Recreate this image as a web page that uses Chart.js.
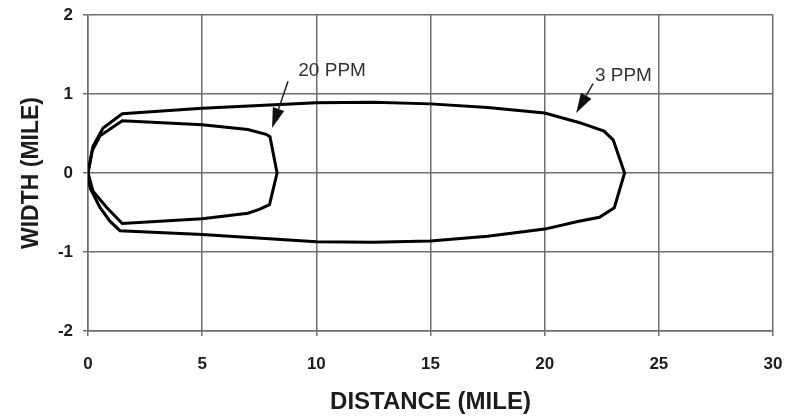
<!DOCTYPE html>
<html>
<head>
<meta charset="utf-8">
<title>Plume width vs distance</title>
<script src="https://cdn.jsdelivr.net/npm/chart.js@4.4.1/dist/chart.umd.min.js"></script>
<style>
  body { margin: 0; background: #fff; }
  #wrap { width: 791px; height: 418px; position: relative; }
</style>
</head>
<body>
<div id="wrap"><canvas id="plume-chart"></canvas></div>
<script>
// 3 PPM contour, traced clockwise from the source
const ppm3Dist  = [0, 0.22, 0.66, 1.5, 5, 10, 12.5, 15, 17.5, 20, 21.5, 22.6, 23.0, 23.5,
                   23.05, 22.4, 21.5, 20, 17.5, 15, 12.5, 10, 5, 1.4, 0.96, 0.53, 0.09, 0];
const ppm3Width = [0, 0.34, 0.57, 0.75, 0.82, 0.89, 0.895, 0.875, 0.83, 0.76, 0.64, 0.53, 0.42, 0,
                   -0.44, -0.56, -0.61, -0.71, -0.80, -0.86, -0.875, -0.87, -0.78, -0.73, -0.61, -0.44, -0.19, 0];

// 20 PPM contour
const ppm20Dist  = [0, 0.18, 0.53, 1.5, 5, 7, 7.8, 7.97, 8.28, 7.95, 7.5, 7, 5, 1.5, 0.83, 0.22, 0];
const ppm20Width = [0, 0.28, 0.47, 0.66, 0.61, 0.55, 0.49, 0.46, 0, -0.40, -0.46, -0.51, -0.58, -0.64, -0.44, -0.23, 0];

const xTicks = [0, 5, 10, 15, 20, 25, 30];
const yTicks = [-2, -1, 0, 1, 2];

// callouts: text position and arrow (from -> to), all in data units
const calloutText  = ['20 PPM', '3 PPM'];
const calloutTextX = [10.69, 23.45];
const calloutTextY = [1.29, 1.23];
const arrowFromX   = [8.76, 22.12];
const arrowFromY   = [1.16, 1.13];
const arrowToX     = [8.06, 21.38];
const arrowToY     = [0.57, 0.76];

const toPoints = (xs, ys) => xs.map((x, i) => ({ x: x, y: ys[i] }));

const GRID = '#6e6e6e';
const INK = '#1c1c1c';
const FONT = '"Liberation Sans", Arial, sans-serif';

const calloutPlugin = {
    id: 'callouts',
    afterDatasetsDraw(chart) {
        const { ctx, scales: { x, y } } = chart;
        ctx.save();
        calloutText.forEach((text, i) => {
            const x1 = x.getPixelForValue(arrowFromX[i]);
            const y1 = y.getPixelForValue(arrowFromY[i]);
            const x2 = x.getPixelForValue(arrowToX[i]);
            const y2 = y.getPixelForValue(arrowToY[i]);
            const ang = Math.atan2(y2 - y1, x2 - x1);
            const headLen = 20, headHalf = 6;
            const bx = x2 - headLen * Math.cos(ang);
            const by = y2 - headLen * Math.sin(ang);

            ctx.strokeStyle = '#222';
            ctx.lineWidth = 1.5;
            ctx.beginPath();
            ctx.moveTo(x1, y1);
            ctx.lineTo(bx, by);
            ctx.stroke();

            ctx.fillStyle = '#111';
            ctx.beginPath();
            ctx.moveTo(x2, y2);
            ctx.lineTo(bx + headHalf * Math.sin(ang), by - headHalf * Math.cos(ang));
            ctx.lineTo(bx - headHalf * Math.sin(ang), by + headHalf * Math.cos(ang));
            ctx.closePath();
            ctx.fill();

            ctx.fillStyle = '#333';
            ctx.font = '19px ' + FONT;
            ctx.textAlign = 'center';
            ctx.textBaseline = 'middle';
            ctx.fillText(text, x.getPixelForValue(calloutTextX[i]), y.getPixelForValue(calloutTextY[i]));
        });
        ctx.restore();
    }
};

function renderPlumeChart() {
    const ctx = document.getElementById('plume-chart').getContext('2d');
    new Chart(ctx, {
        type: 'scatter',
        data: {
            datasets: [{
                label: '3 PPM',
                data: toPoints(ppm3Dist, ppm3Width),
                showLine: true,
                borderColor: '#000',
                borderWidth: 3,
                pointRadius: 0,
                tension: 0,
                fill: false
            }, {
                label: '20 PPM',
                data: toPoints(ppm20Dist, ppm20Width),
                showLine: true,
                borderColor: '#000',
                borderWidth: 3,
                pointRadius: 0,
                tension: 0,
                fill: false
            }]
        },
        options: {
            responsive: true,
            maintainAspectRatio: false,
            animation: false,
            layout: { padding: { top: 15, right: 18, left: 0, bottom: 0 } },
            plugins: {
                legend: { display: false },
                tooltip: { enabled: false }
            },
            scales: {
                x: {
                    type: 'linear',
                    min: 0,
                    max: 30,
                    afterBuildTicks: (scale) => { scale.ticks = xTicks.map(v => ({ value: v })); },
                    afterFit: (scale) => {
                        scale.height = 87;
                        scale.paddingLeft = 0;
                        scale.paddingRight = 0;
                    },
                    grid: { color: GRID, lineWidth: 1.5, tickLength: 5, tickColor: GRID },
                    border: { color: GRID, width: 1.5 },
                    ticks: {
                        color: INK,
                        padding: 18,
                        maxRotation: 0,
                        font: { family: FONT, size: 17, weight: 'bold' }
                    },
                    title: {
                        display: true,
                        text: 'DISTANCE (MILE)',
                        color: INK,
                        padding: { top: 0, bottom: 1 },
                        font: { family: FONT, size: 24, weight: 'bold' }
                    }
                },
                y: {
                    type: 'linear',
                    min: -2,
                    max: 2,
                    afterBuildTicks: (scale) => { scale.ticks = yTicks.map(v => ({ value: v })); },
                    afterFit: (scale) => {
                        scale.width = 88;
                        scale.paddingTop = 0;
                        scale.paddingBottom = 0;
                    },
                    grid: { color: GRID, lineWidth: 1.5, tickLength: 5, tickColor: GRID },
                    border: { color: GRID, width: 1.5 },
                    ticks: {
                        color: INK,
                        padding: 10,
                        font: { family: FONT, size: 17, weight: 'bold' }
                    },
                    title: {
                        display: true,
                        text: 'WIDTH (MILE)',
                        color: INK,
                        padding: { top: 18, bottom: 0 },
                        font: { family: FONT, size: 23, weight: 'bold' }
                    }
                }
            }
        },
        plugins: [calloutPlugin]
    });
}

document.addEventListener('DOMContentLoaded', renderPlumeChart);
</script>
</body>
</html>
